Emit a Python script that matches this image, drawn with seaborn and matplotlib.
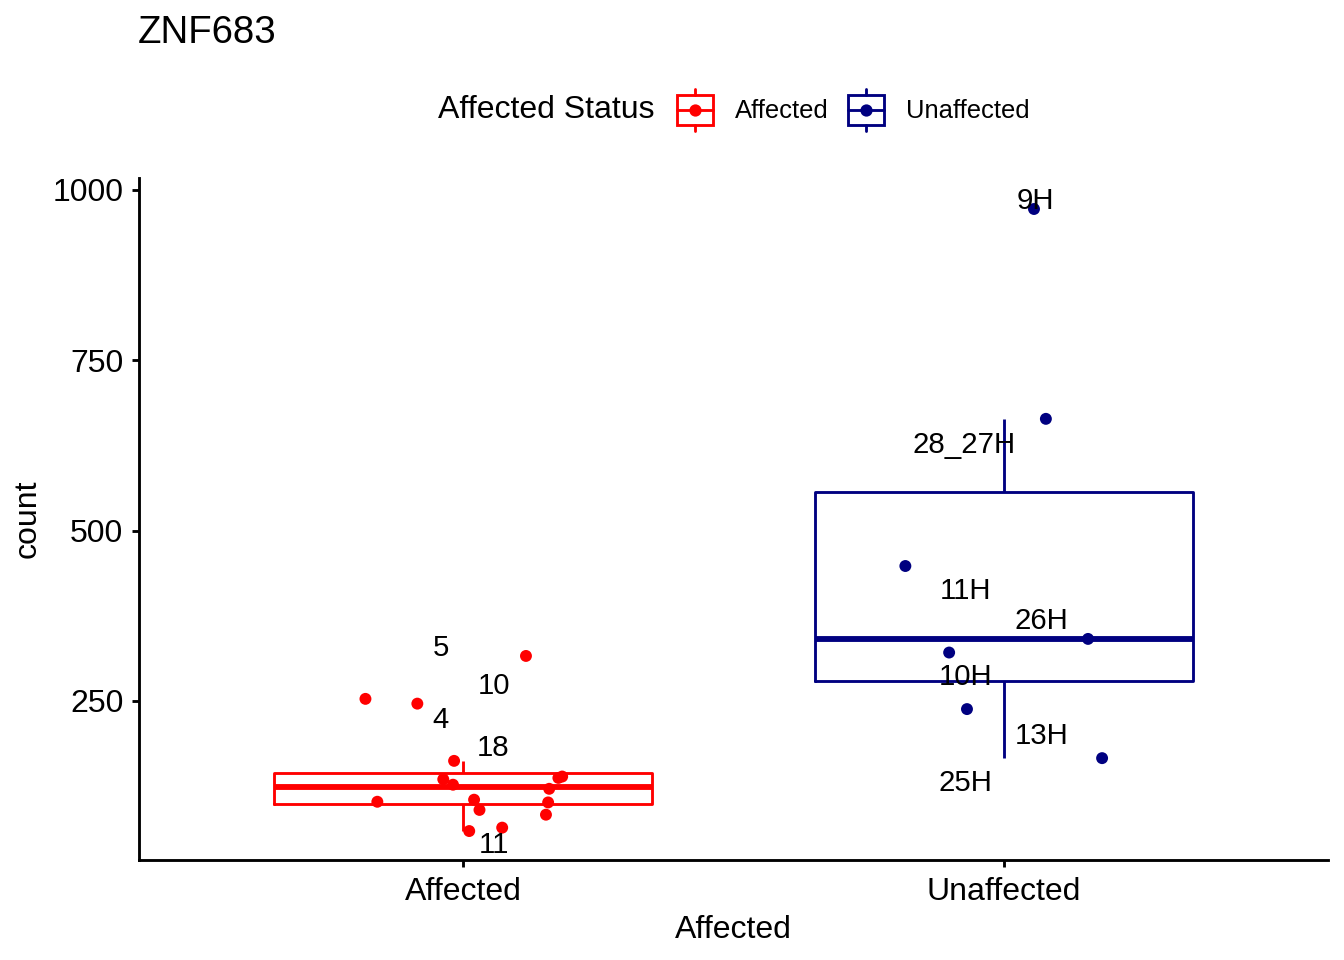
import numpy as np
import pandas as pd
import seaborn as sns
import matplotlib.pyplot as plt
from matplotlib.legend_handler import HandlerBase
from matplotlib.lines import Line2D
from matplotlib.patches import Rectangle

# values
groups = ['Affected', 'Unaffected']
colors = {'Affected': '#FF0000', 'Unaffected': '#000080'}

aff_counts = [316, 253, 246, 162, 135, 127, 102, 105, 90, 59, 64, 139, 137, 121, 101, 83]
aff_jitter = [0.116, -0.181, -0.085, -0.017, -0.037, -0.019, -0.159, 0.020, 0.030,
              0.011, 0.072, 0.183, 0.176, 0.159, 0.157, 0.153]
unaff_counts = [972, 664, 448, 341, 321, 238, 166]
unaff_jitter = [0.056, 0.078, -0.182, 0.156, -0.101, -0.068, 0.182]

aff_labels = ['5', '10', '4', '18', '11']
aff_label_y = [332, 276, 226, 185, 43]
aff_label_dx = [-0.042, 0.056, -0.042, 0.056, 0.056]
unaff_labels = ['9H', '28_27H', '11H', '26H', '10H', '13H', '25H']
unaff_label_y = [988, 630, 415, 371, 289, 203, 134]
unaff_label_dx = [0.059, -0.073, -0.070, 0.070, -0.070, 0.071, -0.070]

df = pd.DataFrame({
    'Affected': ['Affected'] * len(aff_counts) + ['Unaffected'] * len(unaff_counts),
    'count': aff_counts + unaff_counts,
    'jit': aff_jitter + unaff_jitter,
})
df['xpos'] = df['Affected'].map({g: i for i, g in enumerate(groups)}) + df['jit']

labs = pd.DataFrame({
    'Affected': ['Affected'] * len(aff_labels) + ['Unaffected'] * len(unaff_labels),
    'label': aff_labels + unaff_labels,
    'y': aff_label_y + unaff_label_y,
    'dx': aff_label_dx + unaff_label_dx,
})

sns.set_style('ticks')
plt.rcParams['font.family'] = ['Liberation Sans', 'DejaVu Sans']
plt.rcParams['text.color'] = 'black'
plt.rcParams['axes.labelcolor'] = 'black'

fig, ax = plt.subplots(figsize=(7, 5), dpi=192)
fig.subplots_adjust(left=139/1344, right=1328/1344, bottom=1-860/960, top=1-178/960)

sns.boxplot(data=df, x='Affected', y='count', hue='Affected', order=groups,
            hue_order=groups, palette=colors, fill=False, width=0.7,
            showfliers=False, showcaps=False, linewidth=1.07,
            medianprops={'linewidth': 2.2}, legend=False, ax=ax)
sns.scatterplot(data=df, x='xpos', y='count', hue='Affected', palette=colors,
                s=20, linewidth=0, legend=False, ax=ax, zorder=3)

for _, r in labs.iterrows():
    ax.text(groups.index(r['Affected']) + r['dx'], r['y'], r['label'],
            ha='center', va='center_baseline', fontsize=11, zorder=4)

ax.set_xlim(-0.6, 1.6)
ax.set_ylim(16.5, 1017.5)
ax.set_xticks([0, 1])
ax.set_xticklabels(groups)
ax.set_yticks([250, 500, 750, 1000])
sns.despine(ax=ax)
for s in ['left', 'bottom']:
    ax.spines[s].set_linewidth(1.07)
    ax.spines[s].set_color('black')
ax.tick_params(axis='both', length=2.6, width=1.07, color='black', labelsize=12,
               labelcolor='black')
ax.tick_params(axis='x', pad=3.8)
ax.tick_params(axis='y', pad=3.3)
ax.set_xlabel('Affected', fontsize=12, labelpad=2.8)
ax.set_ylabel('count', fontsize=12, labelpad=3.5)

fig.text(138/1344, 1-43/960, 'ZNF683', fontsize=14.4, va='baseline', ha='left')


class BoxKey(HandlerBase):
    def create_artists(self, legend, orig, xd, yd, w, h, fontsize, trans):
        c = orig.get_color()
        cx, cy = -xd + w / 2, -yd + h / 2
        bw, bh, wh = 13.5, 10.9, 16.0
        box = Rectangle((cx - bw / 2, cy - bh / 2), bw, bh, fill=False,
                        ec=c, lw=1.07, transform=trans)
        med = Line2D([cx - bw / 2, cx + bw / 2], [cy, cy], color=c, lw=1.07, transform=trans)
        up = Line2D([cx, cx], [cy + bh / 2, cy + wh / 2], color=c, lw=1.07, transform=trans)
        lo = Line2D([cx, cx], [cy - bh / 2, cy - wh / 2], color=c, lw=1.07, transform=trans)
        pt = Line2D([cx], [cy], marker='o', ms=4.6, color=c, mew=0, ls='none', transform=trans)
        return [box, med, up, lo, pt]


handles = [Line2D([], [], color=colors[g]) for g in groups]
fig.text(438/1344, 1-110/960, 'Affected Status', fontsize=12, va='center', ha='left')
fig.legend(handles, groups, handler_map={Line2D: BoxKey()}, ncol=2, frameon=False,
           loc='center left', bbox_to_anchor=(677/1344, 1-110/960),
           bbox_transform=fig.transFigure, borderpad=0, borderaxespad=0,
           fontsize=9.6, handlelength=1.41, handleheight=1.8,
           handletextpad=0.86, columnspacing=0.75)

fig.savefig('out.png', dpi=192)
